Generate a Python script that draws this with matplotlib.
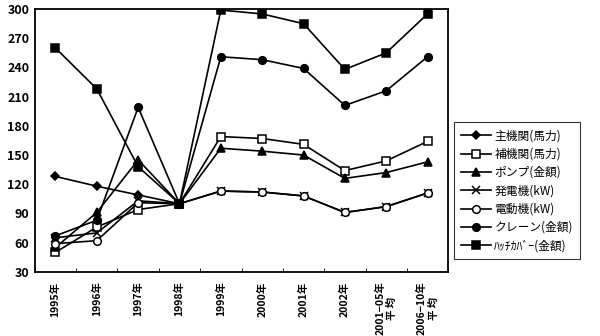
import numpy as np
import matplotlib
matplotlib.use("Agg")
from matplotlib import pyplot as plt

plt.rcParams['font.family'] = ['Noto Sans CJK JP', 'DejaVu Sans']

years = ["1995年", "1996年", "1997年", "1998年", "1999年", "2000年", "2001年",
         "2002年", "2001−05年\n平 均", "2006−10年\n平 均"]

main_engine = [128, 118, 109, 100, np.nan, np.nan, np.nan, np.nan, np.nan, np.nan]
aux_engine = [50, 76, 94, 100, 169, 167, 161, 134, 144, 164]
pump = [55, 91, 145, 100, 157, 154, 150, 126, 132, 143]
generator = [65, 70, 103, 100, 113, 112, 108, 91, 97, 111]
motor = [59, 62, 101, 100, 113, 112, 108, 91, 97, 111]
crane = [67, 83, 199, 100, 251, 248, 239, 201, 216, 251]
hatch_cover = [260, 218, 138, 100, 299, 295, 285, 238, 255, 295]

series = [
    ("主機関(馬力)", main_engine, "D", "black"),
    ("補機関(馬力)", aux_engine, "s", "white"),
    ("ポンプ(金額)", pump, "^", "black"),
    ("発電機(kW)", generator, "x", "black"),
    ("電動機(kW)", motor, "o", "white"),
    ("クレーン(金額)", crane, "o", "black"),
    ("ﾊｯﾁｶﾊﾞｰ(金額)", hatch_cover, "s", "black"),
]

fig = plt.figure(figsize=(6, 3.36), dpi=100)
ax = fig.add_axes([0.058, 0.191, 0.689, 0.782])

x = np.arange(len(years))
for label, vals, mk, fc in series:
    ms = 4.5 if mk == "D" else 5.5
    ax.plot(x, vals, color="black", lw=1.2, marker=mk, markersize=ms,
            markerfacecolor=fc, markeredgecolor="black", markeredgewidth=1.1,
            label=label)

ax.set_xlim(-0.5, len(years) - 0.5)
ax.set_ylim(30, 300)
ax.set_yticks(range(30, 301, 30))
ax.set_xticks(x)
ax.set_xticklabels(years, rotation=90, fontsize=7.5, fontweight="bold",
                   multialignment="center")
ax.set_xticks(np.arange(-0.5, len(years), 1), minor=True)
ax.tick_params(axis="x", which="major", length=0, pad=7)
ax.tick_params(axis="x", which="minor", length=3, direction="in")
ax.tick_params(axis="y", length=0, labelsize=9, pad=4)
for t in ax.get_yticklabels():
    t.set_fontweight("bold")
for s in ax.spines.values():
    s.set_linewidth(1.3)

leg = fig.legend(loc="upper left", bbox_to_anchor=(0.757, 0.636), fontsize=8.5,
                 frameon=True, fancybox=False, edgecolor="black",
                 handlelength=2.5, labelspacing=0.45, borderpad=0.6,
                 handletextpad=0.3, borderaxespad=0)
leg.get_frame().set_linewidth(0.8)

plt.savefig("out.png", dpi=100)
